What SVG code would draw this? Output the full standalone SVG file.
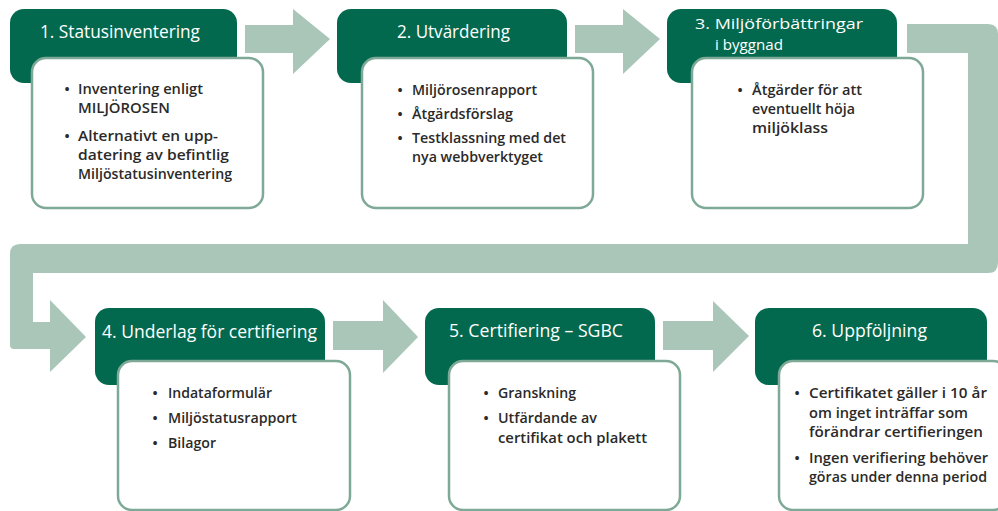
<svg xmlns="http://www.w3.org/2000/svg" width="998" height="511" viewBox="0 0 998 511">
<style>
.hd{fill:#03694e}
.bx{fill:#ffffff;stroke:#7fa997;stroke-width:2.5}
.con{fill:#a9c6b9}
.t{font-family:"Open Sans","Noto Sans",sans-serif;font-size:19px;font-weight:500;fill:#ffffff}
.t3{font-family:"Open Sans","Noto Sans",sans-serif;font-size:15px;font-weight:500;fill:#ffffff}
.b{font-family:"Open Sans","Noto Sans",sans-serif;font-size:15px;font-weight:600;fill:#2b2a29}
.bl{font-family:"Open Sans","Noto Sans",sans-serif;font-size:15px;font-weight:600;fill:#2b2a29;text-anchor:middle}
</style>
<rect width="998" height="511" fill="#ffffff"/>
<g id="connectors">
<polygon class="con" points="245,25 293,25 293,9 330,39 293,74 293,53 245,53"/>
<polygon class="con" points="575,25 623,25 623,9 660,39 623,74 623,53 575,53"/>
<path class="con" d="M907,24 H988 Q998,24 998,34 V263 Q998,273 988,273 H33 V322 H50 V300 L86,337 L50,372 V349 H14 Q10,349 10,345 V254 Q10,244 20,244 H968 V53 H907 Z"/>
<polygon class="con" points="333,321 383,321 383,300 418,337 383,373 383,350 333,350"/>
<polygon class="con" points="663,321 713,321 713,301 749,336 713,372 713,350 663,350"/>
</g>
<g id="node1">
<rect class="hd" x="10" y="9" width="227" height="74" rx="14"/>
<rect class="bx" x="32" y="58" width="231" height="150" rx="14"/>
<text class="t" x="40" y="38" textLength="160" lengthAdjust="spacingAndGlyphs">1. Statusinventering</text>
<text class="bl" x="67" y="94">•</text>
<text class="b" x="78" y="94" textLength="125" lengthAdjust="spacingAndGlyphs">Inventering enligt</text>
<text class="b" x="78" y="113" textLength="92" lengthAdjust="spacingAndGlyphs">MILJÖROSEN</text>
<text class="bl" x="67" y="141">•</text>
<text class="b" x="78" y="141" textLength="140" lengthAdjust="spacingAndGlyphs">Alternativt en upp-</text>
<text class="b" x="78" y="160" textLength="151" lengthAdjust="spacingAndGlyphs">datering av befintlig</text>
<text class="b" x="78" y="179" textLength="154" lengthAdjust="spacingAndGlyphs">Miljöstatusinventering</text>
</g>
<g id="node2">
<rect class="hd" x="337" y="9" width="230" height="74" rx="14"/>
<rect class="bx" x="362" y="58" width="231" height="150" rx="14"/>
<text class="t" x="397" y="38" textLength="113" lengthAdjust="spacingAndGlyphs">2. Utvärdering</text>
<text class="bl" x="400" y="95">•</text>
<text class="b" x="412" y="95" textLength="125" lengthAdjust="spacingAndGlyphs">Miljörosenrapport</text>
<text class="bl" x="400" y="119">•</text>
<text class="b" x="412" y="119" textLength="101" lengthAdjust="spacingAndGlyphs">Åtgärdsförslag</text>
<text class="bl" x="400" y="143">•</text>
<text class="b" x="412" y="143" textLength="154" lengthAdjust="spacingAndGlyphs">Testklassning med det</text>
<text class="b" x="412" y="162" textLength="131" lengthAdjust="spacingAndGlyphs">nya webbverktyget</text>
</g>
<g id="node3">
<rect class="hd" x="667" y="9" width="230" height="74" rx="14"/>
<rect class="bx" x="692" y="58" width="231" height="150" rx="14"/>
<text class="t3"><tspan x="695" y="29" textLength="168" lengthAdjust="spacingAndGlyphs">3. Miljöförbättringar</tspan><tspan x="715" y="50" textLength="68" lengthAdjust="spacingAndGlyphs">i byggnad</tspan></text>
<text class="bl" x="740" y="95">•</text>
<text class="b" x="752" y="95" textLength="110" lengthAdjust="spacingAndGlyphs">Åtgärder för att</text>
<text class="b" x="752" y="114" textLength="103" lengthAdjust="spacingAndGlyphs">eventuellt höja</text>
<text class="b" x="752" y="133" textLength="76" lengthAdjust="spacingAndGlyphs">miljöklass</text>
</g>
<g id="node4">
<rect class="hd" x="95" y="308" width="230" height="77" rx="14"/>
<rect class="bx" x="118" y="361" width="232" height="149" rx="14"/>
<text class="t" x="102" y="338" textLength="215" lengthAdjust="spacingAndGlyphs">4. Underlag för certifiering</text>
<text class="bl" x="155" y="398">•</text>
<text class="b" x="168" y="398" textLength="104" lengthAdjust="spacingAndGlyphs">Indataformulär</text>
<text class="bl" x="155" y="423">•</text>
<text class="b" x="168" y="423" textLength="129" lengthAdjust="spacingAndGlyphs">Miljöstatusrapport</text>
<text class="bl" x="155" y="448">•</text>
<text class="b" x="168" y="448" textLength="48" lengthAdjust="spacingAndGlyphs">Bilagor</text>
</g>
<g id="node5">
<rect class="hd" x="425" y="308" width="230" height="77" rx="14"/>
<rect class="bx" x="449" y="361" width="231" height="149" rx="14"/>
<text class="t" x="449" y="337" textLength="174" lengthAdjust="spacingAndGlyphs">5. Certifiering – SGBC</text>
<text class="bl" x="486" y="398">•</text>
<text class="b" x="498" y="398" textLength="78" lengthAdjust="spacingAndGlyphs">Granskning</text>
<text class="bl" x="486" y="423">•</text>
<text class="b" x="498" y="423" textLength="99" lengthAdjust="spacingAndGlyphs">Utfärdande av</text>
<text class="b" x="498" y="443" textLength="149" lengthAdjust="spacingAndGlyphs">certifikat och plakett</text>
</g>
<g id="node6">
<rect class="hd" x="755" y="308" width="232" height="77" rx="14"/>
<rect class="bx" x="779" y="361" width="228" height="149" rx="14"/>
<text class="t" x="812" y="337" textLength="115" lengthAdjust="spacingAndGlyphs">6. Uppföljning</text>
<text class="bl" x="797" y="398">•</text>
<text class="b" x="809" y="398" textLength="178" lengthAdjust="spacingAndGlyphs">Certifikatet gäller i 10 år</text>
<text class="b" x="809" y="418" textLength="159" lengthAdjust="spacingAndGlyphs">om inget inträffar som</text>
<text class="b" x="809" y="437" textLength="174" lengthAdjust="spacingAndGlyphs">förändrar certifieringen</text>
<text class="bl" x="797" y="463">•</text>
<text class="b" x="809" y="463" textLength="179" lengthAdjust="spacingAndGlyphs">Ingen verifiering behöver</text>
<text class="b" x="809" y="482" textLength="178" lengthAdjust="spacingAndGlyphs">göras under denna period</text>
</g>
</svg>
